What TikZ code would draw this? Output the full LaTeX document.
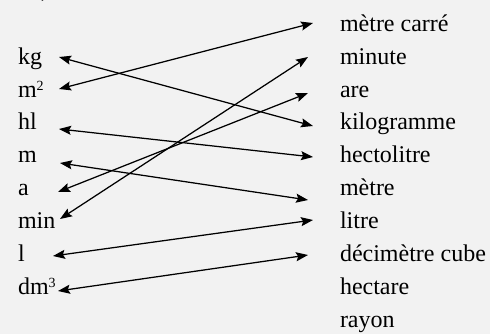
\documentclass[tikz,border=0pt]{standalone}
\usepackage{fontspec}
\setmainfont{Liberation Serif}
\usetikzlibrary{arrows.meta}
\definecolor{paper}{HTML}{F2F2F2}
\newcommand{\pw}[1]{\raisebox{7pt}{\fontsize{14}{14}\selectfont #1}}
\begin{document}
\begin{tikzpicture}[x=1pt,y=-1pt,
  every node/.style={font=\fontsize{24}{28}\selectfont, inner sep=0pt, outer sep=0pt},
  unit/.style={anchor=base west, text width=41pt, align=left},
  word/.style={anchor=base west},
  pair/.style={line width=1.25pt, {Stealth[length=12pt,width=9pt,inset=2pt]}-{Stealth[length=12pt,width=9pt,inset=2pt]}}]
\fill[paper] (0,0) rectangle (490,334);
\useasboundingbox (0,0) rectangle (490,334);
\begin{scope}
  \clip (0,0) rectangle (490,334);
  \node[anchor=base] (paren) at (45,-3) {)};
\end{scope}
% left column: symbols
\node[unit] (kg)  at (18,65)  {kg};
\node[unit] (m2)  at (18,98)  {m\pw{2}};
\node[unit] (hl)  at (18,130) {hl};
\node[unit] (m)   at (18,163) {m};
\node[unit] (a)   at (18,195) {a};
\node[unit] (min) at (18,228) {min};
\node[unit] (l)   at (18,261) {l};
\node[unit] (dm3) at (18,294) {dm\pw{3}};
% right column: names
\node[word] (mc)    at (340,32)  {mètre carré};
\node[word] (minu)  at (340,65)  {minute};
\node[word] (are)   at (340,98)  {are};
\node[word] (kilo)  at (340,130) {kilogramme};
\node[word] (hecto) at (340,163) {hectolitre};
\node[word] (metre) at (340,195) {mètre};
\node[word] (litre) at (340,228) {litre};
\node[word] (dmc)   at (340,261) {décimètre cube};
\node[word] (hect)  at (340,294) {hectare};
\node[word] (rayon) at (340,327) {rayon};
% matching arrows
\draw[pair] ([yshift=8pt]kg.base east)  -- ([xshift=-27pt,yshift=4pt]kilo.base west);
\draw[pair] ([yshift=9pt]m2.base east)  -- ([xshift=-27pt,yshift=9pt]mc.base west);
\draw[pair] ([yshift=1pt]hl.base east)  -- ([xshift=-27pt,yshift=6pt]hecto.base west);
\draw[pair] ([xshift=1pt,yshift=0pt]m.base east) -- ([xshift=-32pt,yshift=-5pt]metre.base west);
\draw[pair] ([xshift=-1pt,yshift=3pt]a.base east) -- ([xshift=-32pt,yshift=5pt]are.base west);
\draw[pair] ([xshift=1pt,yshift=9pt]min.base east) -- ([xshift=-32pt,yshift=8pt]minu.base west);
\draw[pair] ([xshift=-6pt,yshift=5pt]l.base east) -- ([xshift=-27pt,yshift=8pt]litre.base west);
\draw[pair] ([xshift=-1pt,yshift=3pt]dm3.base east) -- ([xshift=-32pt,yshift=6pt]dmc.base west);
\end{tikzpicture}
\end{document}
